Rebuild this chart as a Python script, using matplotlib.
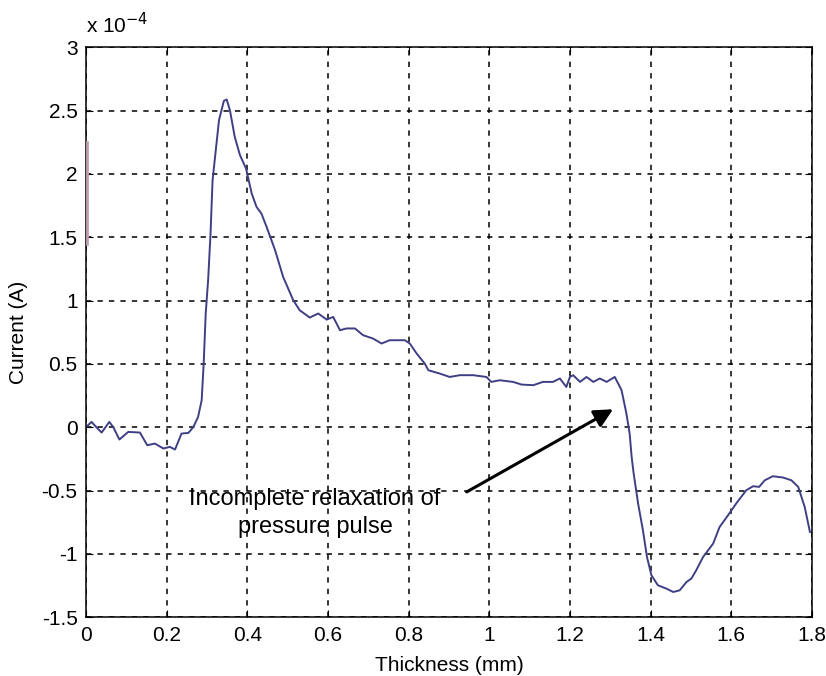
import matplotlib.pyplot as plt
from matplotlib.ticker import FuncFormatter

plt.rcParams['font.family'] = ['Liberation Sans', 'DejaVu Sans']

SCALE = 1e-4

# thickness (mm) and current (x 1e-4 A)
thickness = [0.0, 0.014, 0.026, 0.039, 0.058, 0.068, 0.083, 0.105, 0.134, 0.152,
             0.171, 0.192, 0.208, 0.221, 0.237, 0.254, 0.266, 0.278, 0.287, 0.292,
             0.297, 0.303, 0.309, 0.314, 0.322, 0.330, 0.342, 0.349, 0.357, 0.369,
             0.382, 0.397, 0.411, 0.423, 0.435, 0.448, 0.469, 0.489, 0.514, 0.530,
             0.555, 0.576, 0.597, 0.613, 0.630, 0.646, 0.667, 0.687, 0.712, 0.733,
             0.753, 0.791, 0.803, 0.820, 0.840, 0.849, 0.877, 0.902, 0.927, 0.960,
             0.993, 1.005, 1.026, 1.059, 1.080, 1.109, 1.133, 1.158, 1.175, 1.191,
             1.200, 1.208, 1.225, 1.241, 1.258, 1.274, 1.291, 1.311, 1.324, 1.328,
             1.340, 1.348, 1.353, 1.358, 1.369, 1.381, 1.391, 1.402, 1.418, 1.439,
             1.456, 1.472, 1.489, 1.501, 1.513, 1.530, 1.555, 1.571, 1.592, 1.612,
             1.637, 1.654, 1.669, 1.683, 1.703, 1.728, 1.749, 1.766, 1.782, 1.795]
current = [0.0, 0.042, 0.0, -0.042, 0.042, 0.0, -0.097, -0.037, -0.042, -0.142,
           -0.129, -0.168, -0.155, -0.176, -0.050, -0.045, 0.0, 0.08, 0.213, 0.503,
           0.898, 1.161, 1.53, 1.95, 2.188, 2.425, 2.577, 2.588, 2.504, 2.293,
           2.148, 2.043, 1.846, 1.740, 1.688, 1.582, 1.398, 1.187, 1.003, 0.924,
           0.866, 0.898, 0.850, 0.871, 0.766, 0.780, 0.780, 0.727, 0.700, 0.661,
           0.687, 0.687, 0.661, 0.582, 0.503, 0.450, 0.424, 0.397, 0.411, 0.411,
           0.397, 0.358, 0.371, 0.358, 0.337, 0.332, 0.358, 0.358, 0.385, 0.318,
           0.397, 0.411, 0.358, 0.397, 0.358, 0.385, 0.358, 0.397, 0.318, 0.292,
           0.108, -0.050, -0.235, -0.366, -0.603, -0.814, -1.025, -1.169, -1.248, -1.274,
           -1.301, -1.288, -1.222, -1.195, -1.130, -1.025, -0.919, -0.788, -0.695, -0.603,
           -0.498, -0.466, -0.471, -0.419, -0.387, -0.397, -0.419, -0.471, -0.630, -0.827]

# short spike drawn on the left axis
edge_x = [0.003, 0.003]
edge_y = [2.25, 1.45]

xticks = [0, 0.2, 0.4, 0.6, 0.8, 1, 1.2, 1.4, 1.6, 1.8]
yticks = [-1.5, -1, -0.5, 0, 0.5, 1, 1.5, 2, 2.5, 3]

fig = plt.figure(figsize=(8.26, 6.76), dpi=100)
ax = fig.add_axes([0.104, 0.087, 0.879, 0.843])

ax.plot(thickness, [c * SCALE for c in current], color='#3f3f85', lw=1.4)
ax.plot(edge_x, [c * SCALE for c in edge_y], color='#c0a0b0', lw=2, zorder=5)

ax.set_xlim(0, 1.8)
ax.set_ylim(-1.5 * SCALE, 3 * SCALE)
ax.set_xticks(xticks)
ax.set_yticks([t * SCALE for t in yticks])
ax.xaxis.set_major_formatter(FuncFormatter(lambda v, p: '%g' % round(v, 2)))
ax.yaxis.set_major_formatter(FuncFormatter(lambda v, p: '%g' % round(v / SCALE, 2)))
ax.tick_params(direction='in', length=5, labelsize=15, top=True, right=True,
               pad=6)
ax.grid(True, color='black', linestyle=(0, (3.5, 4)), lw=1.1)
for s in ax.spines.values():
    s.set_linewidth(1.1)

ax.set_xlabel('Thickness (mm)', fontsize=15, labelpad=8)
ax.set_ylabel('Current (A)', fontsize=15, labelpad=10)
ax.text(0.0, 1.018, r'x 10$^{-4}$', transform=ax.transAxes, fontsize=15,
        ha='left', va='bottom')

ax.text(0.568, -0.68 * SCALE, 'Incomplete relaxation of\npressure pulse',
        fontsize=17, ha='center', va='center', linespacing=1.35)
ax.annotate('', xy=(1.307, 0.142 * SCALE), xytext=(0.944, -0.511 * SCALE),
            arrowprops=dict(arrowstyle='-|>', color='black', lw=2.2,
                            mutation_scale=28, shrinkA=0, shrinkB=0))

fig.savefig('out.png', dpi=100)
